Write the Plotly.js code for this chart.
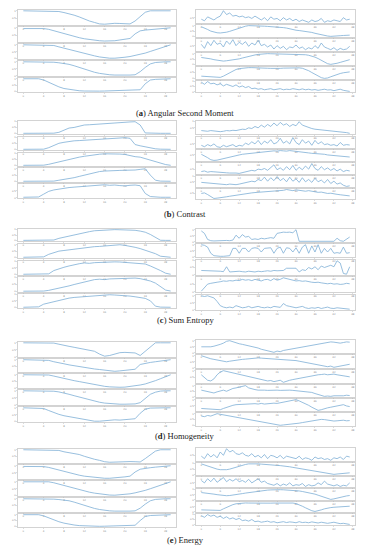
<!DOCTYPE html>
<html><head><meta charset="utf-8">
<script src="https://cdn.plot.ly/plotly-3.0.1.min.js"></script>
<style>html,body{margin:0;padding:0;background:#fff}#c{width:370px;height:550px}</style>
</head><body><div id="c"></div>
<script>
// ---------- DATA (normalised) ----------
// (a) Angular Second Moment
const aL1=[1,1,1,1,1,1,1,0.95,0.88,0.8,0.7,0.58,0.42,0.3,0.2,0.1,0.08,0.12,0.14,0.13,0.12,0.1,0.3,0.6,0.9,1,1,1,1,1];
const aL2=[0.95,0.96,0.96,0.96,0.95,0.9,0.8,0.7,0.6,0.5,0.42,0.35,0.28,0.22,0.18,0.15,0.13,0.12,0.15,0.2,0.25,0.3,0.6,0.8,0.85,0.88,0.9,0.95,0.97,1];
const aL3=[1,1,1,1,1,1,0.95,0.85,0.75,0.65,0.55,0.45,0.36,0.28,0.2,0.12,0.06,0.03,0.03,0.05,0.1,0.15,0.22,0.3,0.4,0.52,0.65,0.78,0.9,1];
const aL4=[1,1,1,1,1,1,0.97,0.93,0.88,0.82,0.72,0.6,0.48,0.36,0.26,0.18,0.12,0.08,0.06,0.05,0.05,0.06,0.08,0.3,0.6,0.85,0.95,1,1,1];
const aL5=[1,1,1,1,0.9,0.7,0.5,0.35,0.22,0.14,0.08,0.04,0.02,0,0,0.01,0.02,0.03,0.04,0.05,0.06,0.08,0.1,0.12,0.6,0.9,0.95,0.97,0.98,1];
const aR1=[0.4,0.3,0.55,0.45,0.35,0.5,0.6,0.95,0.7,0.8,0.6,0.65,0.55,0.6,0.5,0.55,0.45,0.6,0.5,0.35,0.5,0.3,0.55,0.4,0.45,0.3,0.5,0.35,0.45,0.3,0.4,0.25,0.35,0.3,0.2,0.35,0.25,0.3,0.45,0.2,0.3,0.25,0.35,0.3,0.25,0.5,0.35,0.4];
const aR2=[0.9,0.8,0.65,0.5,0.4,0.35,0.33,0.35,0.4,0.48,0.58,0.7,0.8,0.9,0.95,1,1,0.98,0.97,0.98,0.95,0.93,0.92,0.9,0.88,0.85,0.82,0.78,0.7,0.62,0.58,0.55,0.52,0.5,0.45,0.38,0.3,0.22,0.15,0.1,0.05,0.02,0.02,0.05,0.08,0.1,0.12,0.13];
const aR3=[0.6,0.3,0.8,0.5,0.9,0.6,0.7,0.4,0.85,0.6,0.95,0.5,0.75,0.6,0.8,0.45,0.7,0.55,0.9,0.5,0.6,0.4,0.55,0.25,0.5,0.3,0.45,0.2,0.4,0.35,0.55,0.3,0.4,0.2,0.35,0.25,0.5,0.3,0.7,0.4,0.3,0.2,0.35,0.15,0.3,0.2,0.25,0.45];
const aR4=[0.65,0.62,0.58,0.52,0.45,0.4,0.35,0.32,0.35,0.38,0.4,0.45,0.52,0.6,0.68,0.75,0.82,0.88,0.93,0.97,1,1,0.99,0.98,0.97,0.98,0.99,0.98,0.96,0.95,0.93,0.95,0.92,0.9,0.85,0.78,0.68,0.55,0.4,0.22,0.08,0.02,0.05,0.12,0.2,0.3,0.38,0.45];
const aR5=[0.2,0.18,0.17,0.16,0.15,0.12,0.1,0.2,0.35,0.5,0.65,0.75,0.82,0.86,0.88,0.9,0.9,0.88,0.87,0.88,0.86,0.85,0.84,0.83,0.82,0.84,0.86,0.87,0.88,0.89,0.9,0.88,0.85,0.78,0.65,0.5,0.35,0.2,0.08,0.02,0.05,0.15,0.25,0.35,0.42,0.48,0.5,0.55];
const aR6=[0.9,0.7,0.95,0.75,0.8,0.65,0.75,0.55,0.7,0.6,0.5,0.65,0.45,0.55,0.4,0.5,0.3,0.35,0.25,0.3,0.2,0.25,0.3,0.2,0.25,0.3,0.2,0.25,0.22,0.3,0.25,0.2,0.28,0.2,0.25,0.18,0.22,0.15,0.2,0.25,0.18,0.2,0.12,0.18,0.25,0.15,0.1,0.05];
// (b) Contrast
const bL1=[0.02,0.02,0.02,0.02,0.02,0.02,0.03,0.1,0.3,0.45,0.5,0.6,0.7,0.72,0.75,0.8,0.85,0.88,0.9,0.9,0.92,0.95,0.97,0.7,0.05,0.02,0.02,0.02,0.02,0.02];
const bL2=[0.02,0.02,0.02,0.02,0.03,0.15,0.35,0.5,0.58,0.65,0.7,0.72,0.75,0.78,0.8,0.82,0.85,0.88,0.9,0.92,0.95,0.9,0.4,0.3,0.2,0.12,0.06,0.03,0.02,0.02];
const bL3=[0.02,0.02,0.02,0.02,0.03,0.1,0.2,0.3,0.42,0.52,0.6,0.68,0.75,0.82,0.88,0.92,0.95,0.96,0.95,0.93,0.9,0.8,0.72,0.68,0.55,0.42,0.3,0.18,0.08,0.02];
const bL4=[0.02,0.02,0.02,0.02,0.02,0.02,0.03,0.1,0.15,0.22,0.3,0.4,0.5,0.6,0.7,0.78,0.82,0.85,0.86,0.87,0.88,0.88,0.9,0.95,1,0.5,0.1,0.03,0.02,0.02];
const bL5=[0.03,0.03,0.03,0.05,0.25,0.45,0.55,0.62,0.68,0.72,0.75,0.78,0.8,0.85,0.88,0.9,0.92,0.88,0.9,0.86,0.84,0.88,0.9,0.85,0.3,0.08,0.04,0.03,0.03,0.03];
const bR1=[0.3,0.28,0.25,0.3,0.27,0.25,0.22,0.25,0.3,0.28,0.32,0.3,0.35,0.4,0.38,0.5,0.45,0.6,0.5,0.7,0.55,0.75,0.6,0.85,0.65,0.9,0.7,0.8,0.6,0.75,0.65,0.95,0.7,0.6,0.5,0.45,0.4,0.38,0.35,0.32,0.3,0.28,0.25,0.22,0.2,0.18,0.15,0.1];
const bR2=[0.4,0.3,0.45,0.35,0.5,0.3,0.25,0.4,0.3,0.35,0.45,0.3,0.4,0.35,0.55,0.45,0.65,0.5,0.75,0.45,0.7,0.55,0.8,0.5,0.6,0.9,0.55,0.7,0.5,0.95,0.6,0.45,0.8,0.55,0.7,0.4,0.75,0.5,0.65,0.45,0.5,0.4,0.45,0.35,0.6,0.4,0.45,0.42];
const bR3=[0.55,0.45,0.3,0.15,0.1,0.12,0.18,0.25,0.3,0.35,0.4,0.45,0.5,0.55,0.58,0.6,0.63,0.65,0.68,0.7,0.72,0.75,0.78,0.8,0.78,0.82,0.8,0.78,0.82,0.8,0.78,0.75,0.72,0.7,0.65,0.62,0.6,0.62,0.6,0.55,0.5,0.48,0.45,0.42,0.4,0.38,0.36,0.35];
const bR4=[0.3,0.35,0.25,0.3,0.28,0.25,0.2,0.22,0.2,0.18,0.2,0.18,0.15,0.2,0.3,0.35,0.4,0.35,0.5,0.45,0.55,0.4,0.6,0.85,0.45,0.6,0.4,0.7,0.45,0.8,0.4,0.65,0.45,0.75,0.5,0.95,0.55,0.4,0.7,0.45,0.6,0.4,0.55,0.35,0.5,0.3,0.4,0.35];
const bR5=[0.45,0.42,0.4,0.35,0.38,0.3,0.32,0.28,0.25,0.3,0.28,0.25,0.3,0.35,0.4,0.45,0.55,0.5,0.7,0.6,0.9,0.55,0.85,0.6,0.95,0.6,0.8,0.5,0.9,0.55,0.75,0.45,0.85,0.5,0.7,0.45,0.8,0.5,0.65,0.4,0.7,0.35,0.55,0.3,0.4,0.2,0.1,0.15];
const bR6=[0.5,0.55,0.4,0.2,0.05,0.08,0.1,0.15,0.2,0.25,0.3,0.35,0.38,0.4,0.45,0.5,0.55,0.58,0.6,0.62,0.65,0.7,0.68,0.72,0.75,0.8,0.78,0.85,0.8,0.75,0.82,0.78,0.72,0.7,0.75,0.68,0.65,0.6,0.62,0.55,0.5,0.52,0.45,0.42,0.38,0.35,0.3,0.28];
// (c) Sum Entropy
const cL1=[0.02,0.02,0.02,0.02,0.02,0.02,0.05,0.2,0.3,0.45,0.55,0.62,0.7,0.8,0.88,0.92,0.95,0.97,0.98,0.97,0.96,0.97,0.92,0.85,0.75,0.55,0.3,0.03,0.02,0.02];
const cL2=[0.02,0.02,0.02,0.02,0.05,0.25,0.4,0.5,0.55,0.6,0.68,0.72,0.78,0.82,0.85,0.87,0.9,0.93,0.97,1,0.95,0.9,0.8,0.7,0.58,0.45,0.3,0.1,0.03,0.02];
const cL3=[0.02,0.02,0.02,0.02,0.03,0.05,0.3,0.45,0.55,0.65,0.75,0.82,0.88,0.85,0.9,0.92,0.95,0.97,0.96,0.95,0.93,0.9,0.88,0.85,0.8,0.65,0.5,0.3,0.1,0.02];
const cL4=[0.02,0.02,0.02,0.02,0.03,0.08,0.15,0.22,0.3,0.4,0.5,0.58,0.7,0.78,0.85,0.88,0.85,0.9,0.92,0.95,0.97,0.98,0.96,0.92,0.85,0.75,0.6,0.35,0.1,0.03];
const cL5=[0.02,0.02,0.02,0.05,0.25,0.35,0.45,0.55,0.62,0.7,0.75,0.78,0.8,0.82,0.85,0.9,0.95,0.95,0.93,0.92,0.9,0.85,0.8,0.75,0.68,0.5,0.1,0.03,0.02,0.02];
const cR1=[0.9,0.7,0.2,0.1,0.08,0.1,0.08,0.1,0.12,0.1,0.15,0.55,0.3,0.6,0.4,0.45,0.2,0.25,0.2,0.3,0.25,0.3,0.35,0.3,0.7,0.75,0.8,0.78,0.8,0.75,1,0.05,0.05,0.05,0.05,0.05,0.05,0.05,0.05,0.05,0.05,0.05,0.05,0.3,0.1,0.05,0.2,0.4];
const cR2=[1,0.95,0.8,0.3,0.1,0.05,0.05,0.05,0.05,0.1,0.7,0.7,0.3,0.7,0.7,0.4,0.7,0.75,0.7,0.4,0.7,0.7,0.75,0.3,0.7,0.8,0.3,0.75,0.7,0.4,0.75,0.3,0.8,1,0.3,0.9,0.4,1,0.3,0.7,0.4,0.7,0.3,0.35,0.3,0.8,0.3,0.35];
const cR3=[0.3,0.3,0.28,0.3,0.25,0.28,0.25,0.22,0.55,0.2,0.22,0.2,0.25,0.22,0.2,0.25,0.22,0.2,0.25,0.22,0.25,0.28,0.25,0.3,0.28,0.3,0.3,0.45,0.45,0.4,0.45,0.2,0.35,0.3,0.5,0.4,0.55,0.35,0.6,0.5,0.6,0.65,0.55,0.95,0.8,0.1,0.05,0.55];
const cR4=[0.05,0.3,0.5,0.55,0.6,0.62,0.65,0.7,0.68,0.72,0.7,0.75,0.72,0.8,0.75,0.78,0.72,0.8,0.75,0.7,0.78,0.8,0.72,0.85,0.75,0.8,0.9,0.85,0.8,0.75,0.7,0.72,0.68,0.7,0.65,0.62,0.6,0.62,0.58,0.55,0.52,0.55,0.5,0.52,0.48,0.5,0.55,0.52];
const cR5=[1,0.95,1,0.9,0.85,0.6,0.3,0.2,0.15,0.2,0.15,0.3,0.2,0.15,0.18,0.25,0.15,0.2,0.25,0.18,0.15,0.2,0.15,0.25,0.2,0.18,0.45,0.3,0.25,0.2,0.15,0.2,0.25,0.15,0.1,0.15,0.12,0.18,0.1,0.15,0.2,0.12,0.1,0.15,0.12,0.1,0.08,0.05];
// (d) Homogeneity
const dL1=[1,1,1,1,1,1,0.98,0.9,0.85,0.75,0.68,0.62,0.55,0.45,0.4,0.2,0.05,0.1,0.2,0.3,0.32,0.3,0.28,0.1,0.4,0.75,1,1,1,1];
const dL2=[1,1,1,1,1,0.95,0.85,0.75,0.7,0.62,0.55,0.48,0.42,0.38,0.32,0.28,0.22,0.18,0.15,0.18,0.22,0.25,0.3,0.65,0.75,0.8,0.85,0.9,0.95,1];
const dL3=[1,1,1,1,1,0.98,0.9,0.8,0.72,0.62,0.55,0.48,0.4,0.32,0.25,0.18,0.12,0.08,0.05,0.05,0.06,0.1,0.15,0.22,0.3,0.4,0.55,0.7,0.85,1];
const dL4=[1,1,1,1,1,1,0.97,0.92,0.85,0.75,0.65,0.55,0.45,0.35,0.25,0.18,0.12,0.08,0.05,0.04,0.04,0.05,0.06,0.15,0.45,0.75,0.9,0.98,1,1];
const dL5=[1,1,1,1,0.95,0.8,0.65,0.52,0.42,0.35,0.28,0.2,0.12,0.06,0.02,0.02,0.05,0.1,0.12,0.1,0.12,0.15,0.2,0.6,0.9,0.98,1,1,1,1];
const dR1=[0.5,0.48,0.52,0.5,0.55,0.6,0.7,0.8,0.95,1,0.9,0.8,0.75,0.7,0.65,0.6,0.5,0.45,0.4,0.3,0.25,0.15,0.1,0.05,0.15,0.1,0.2,0.25,0.3,0.35,0.4,0.45,0.5,0.55,0.6,0.62,0.65,0.7,0.75,0.8,0.85,0.9,0.88,0.85,0.8,0.85,0.9,0.88];
const dR2=[1,0.9,0.8,0.75,0.7,0.65,0.6,0.55,0.5,0.55,0.6,0.65,0.68,0.7,0.72,0.75,0.78,0.8,0.82,0.8,0.78,0.8,0.78,0.75,0.72,0.7,0.72,0.68,0.65,0.62,0.6,0.55,0.5,0.45,0.4,0.35,0.3,0.25,0.2,0.15,0.1,0.15,0.05,0.1,0.15,0.2,0.25,0.3];
const dR3=[0.7,0.5,0.3,0.25,0.4,0.7,0.9,1,0.95,0.85,0.8,0.78,0.75,0.7,0.65,0.6,0.55,0.45,0.4,0.35,0.3,0.25,0.28,0.2,0.25,0.3,0.15,0.25,0.3,0.35,0.4,0.42,0.45,0.5,0.55,0.6,0.65,0.7,0.72,0.75,0.7,0.72,0.75,0.7,0.65,0.6,0.58,0.55];
const dR4=[0.6,0.55,0.5,0.4,0.35,0.45,0.55,0.6,0.5,0.65,0.75,0.8,0.85,0.95,1,0.8,0.7,0.65,0.6,0.62,0.6,0.58,0.6,0.62,0.6,0.58,0.6,0.62,0.6,0.58,0.55,0.58,0.55,0.5,0.45,0.4,0.3,0.2,0.1,0.05,0.08,0.05,0.1,0.08,0.12,0.1,0.15,0.12];
const dR5=[0.3,0.28,0.3,0.25,0.28,0.25,0.2,0.3,0.4,0.5,0.55,0.6,0.62,0.6,0.65,0.62,0.65,0.68,0.65,0.7,0.65,0.68,0.7,0.72,0.7,0.75,0.8,0.85,0.9,0.95,1,0.9,0.8,0.7,0.55,0.4,0.25,0.15,0.2,0.3,0.35,0.4,0.45,0.5,0.55,0.6,0.5,0.45];
const dR6=[0.8,0.75,0.85,0.8,0.9,1,0.95,0.9,0.85,0.8,0.75,0.7,0.65,0.6,0.55,0.5,0.45,0.4,0.35,0.3,0.25,0.2,0.15,0.1,0.05,0.02,0.05,0.08,0.05,0.1,0.15,0.2,0.25,0.3,0.35,0.4,0.45,0.5,0.52,0.5,0.45,0.4,0.38,0.4,0.42,0.45,0.4,0.42];
// (e) Energy
const eL1=[1,1,1,1,1,1,1,0.95,0.85,0.78,0.72,0.65,0.52,0.4,0.3,0.22,0.12,0.08,0.1,0.12,0.14,0.13,0.12,0.1,0.35,0.65,0.9,1,1,1];
const eL2=[0.95,0.95,0.95,0.96,0.94,0.88,0.78,0.68,0.58,0.48,0.4,0.32,0.25,0.2,0.15,0.12,0.1,0.1,0.12,0.15,0.2,0.25,0.55,0.75,0.82,0.86,0.9,0.94,0.97,1];
const eL3=[1,1,1,1,1,1,0.93,0.83,0.72,0.62,0.52,0.42,0.33,0.25,0.18,0.12,0.07,0.04,0.03,0.05,0.08,0.13,0.2,0.28,0.38,0.5,0.62,0.75,0.88,1];
const eL4=[1,1,1,1,1,1,0.97,0.94,0.9,0.85,0.75,0.62,0.5,0.38,0.28,0.2,0.14,0.1,0.08,0.07,0.07,0.08,0.1,0.3,0.6,0.85,0.95,1,1,1];
const eL5=[1,1,1,1,0.9,0.72,0.55,0.4,0.28,0.18,0.12,0.07,0.04,0.02,0.01,0.01,0.02,0.03,0.04,0.05,0.06,0.08,0.1,0.5,0.85,0.93,0.96,0.98,1,1];
const eR1=[0.45,0.3,0.6,0.4,0.55,0.35,0.7,0.5,0.9,0.7,0.8,0.6,0.55,0.65,0.5,0.45,0.6,0.4,0.5,0.35,0.55,0.3,0.5,0.45,0.35,0.5,0.3,0.45,0.4,0.35,0.3,0.45,0.25,0.35,0.3,0.2,0.4,0.3,0.35,0.25,0.3,0.2,0.35,0.3,0.4,0.25,0.45,0.4];
const eR2=[0.95,0.85,0.75,0.65,0.55,0.5,0.45,0.42,0.45,0.5,0.58,0.68,0.78,0.85,0.9,0.95,0.97,0.96,0.95,0.93,0.92,0.9,0.88,0.85,0.82,0.8,0.78,0.75,0.7,0.65,0.6,0.55,0.5,0.45,0.4,0.35,0.3,0.25,0.2,0.15,0.1,0.08,0.05,0.08,0.1,0.12,0.15,0.18];
const eR3=[0.7,0.5,0.85,0.6,0.9,0.55,0.75,0.95,0.6,0.8,0.65,0.85,0.6,0.7,0.55,0.8,0.5,0.7,0.85,0.55,0.65,0.45,0.4,0.3,0.45,0.25,0.4,0.3,0.5,0.25,0.35,0.3,0.45,0.2,0.35,0.25,0.3,0.5,0.35,0.65,0.4,0.3,0.25,0.35,0.2,0.3,0.25,0.5];
const eR4=[0.7,0.68,0.65,0.6,0.55,0.5,0.45,0.42,0.4,0.42,0.45,0.5,0.55,0.6,0.65,0.7,0.75,0.8,0.85,0.88,0.9,0.93,0.95,0.97,0.98,0.97,0.96,0.95,0.93,0.9,0.88,0.85,0.8,0.75,0.7,0.62,0.55,0.45,0.35,0.2,0.1,0.05,0.1,0.18,0.25,0.32,0.38,0.42];
const eR5=[0.2,0.18,0.17,0.15,0.14,0.12,0.15,0.3,0.45,0.6,0.7,0.78,0.82,0.85,0.86,0.85,0.84,0.85,0.86,0.84,0.83,0.82,0.84,0.85,0.86,0.87,0.88,0.9,0.88,0.85,0.8,0.7,0.55,0.4,0.25,0.12,0.05,0.1,0.2,0.3,0.38,0.42,0.45,0.48,0.5,0.52,0.55,0.55];
const eR6=[0.85,0.7,0.95,0.8,0.9,0.7,0.8,0.6,0.75,0.55,0.65,0.5,0.6,0.4,0.45,0.35,0.5,0.3,0.35,0.25,0.3,0.35,0.25,0.3,0.2,0.28,0.3,0.22,0.28,0.25,0.2,0.3,0.22,0.25,0.2,0.28,0.22,0.18,0.25,0.2,0.15,0.2,0.25,0.18,0.12,0.15,0.1,0.05];

const captionLetters=['a','b','c','d','e'];
const captionNames=['Angular Second Moment','Contrast','Sum Entropy','Homogeneity','Energy'];
const leftSeries=[[aL1,aL2,aL3,aL4,aL5],[bL1,bL2,bL3,bL4,bL5],[cL1,cL2,cL3,cL4,cL5],[dL1,dL2,dL3,dL4,dL5],[eL1,eL2,eL3,eL4,eL5]];
const rightSeries=[[aR1,aR2,aR3,aR4,aR5,aR6],[bR1,bR2,bR3,bR4,bR5,bR6],[cR1,cR2,cR3,cR4,cR5],[dR1,dR2,dR3,dR4,dR5,dR6],[eR1,eR2,eR3,eR4,eR5,eR6]];

// ---------- LAYOUT (pixel frames) ----------
const W=370,H=550;
const LX=[18,176], RX=[196,355];
const leftFrames=[
 [[10,25],[27,42],[44,59],[61,76],[78,92]],
 [[121,134],[137,150],[153,166],[168,182],[184,198]],
 [[229,241],[244,258],[261,275],[277,292],[294,308]],
 [[342,357],[359,372],[374,388],[390,405],[407,422]],
 [[449,463],[465,479],[481,496],[498,512],[514,527]]];
const rightFrames=[
 [[10,23],[25,37],[39,51],[53,65],[67,79],[81,92]],
 [[121,134],[137,148],[150,161],[163,174],[176,187],[189,199]],
 [[229,242],[244,257],[260,275],[277,292],[295,310]],
 [[340,353],[355,368],[370,383],[385,397],[399,411],[413,426]],
 [[448,461],[463,475],[477,487],[489,500],[502,512],[514,525]]];
const captionY=[113,214,320,436,540];

const traces=[]; const layout={width:W,height:H,margin:{l:0,r:0,t:0,b:0},showlegend:false,
  paper_bgcolor:'#fff',plot_bgcolor:'#fff',annotations:[]};
let k=0;
function addSub(ys,xr,fr,dt){
  k++;
  const sfx=(k===1?'':k);
  const xs=ys.map((_,i)=>i);
  traces.push({x:xs,y:ys,type:'scatter',mode:'lines',xaxis:'x'+sfx,yaxis:'y'+sfx,
    line:{color:'#7eaed6',width:0.8},hoverinfo:'skip'});
  const mn=Math.min(...ys), mx=Math.max(...ys); const pad=(mx-mn)*0.06||0.05;
  const n=ys.length, xpad=n*0.035;
  const common={showline:true,mirror:true,linecolor:'#b5b5b5',linewidth:0.6,showgrid:false,zeroline:false,
    ticks:'outside',ticklen:1,tickwidth:0.4,tickcolor:'#aaa',tickfont:{size:2.5,color:'#888',family:'DejaVu Sans'}};
  layout['xaxis'+sfx]=Object.assign({},common,{domain:[xr[0]/W,xr[1]/W],anchor:'y'+sfx,range:[-xpad,n-1+xpad],dtick:dt,tick0:0});
  layout['yaxis'+sfx]=Object.assign({},common,{domain:[1-fr[1]/H,1-fr[0]/H],anchor:'x'+sfx,range:[mn-pad,mx+pad],nticks:3});
}
for(let p=0;p<5;p++){
  leftSeries[p].forEach((s,i)=>addSub(s,LX,leftFrames[p][i],4));
  rightSeries[p].forEach((s,i)=>addSub(s,RX,rightFrames[p][i],6));
  layout.annotations.push({xref:'paper',yref:'paper',x:185/W,y:1-captionY[p]/H,xanchor:'center',yanchor:'middle',
    showarrow:false,text:'(<b>'+captionLetters[p]+'</b>) '+captionNames[p],
    font:{family:'Liberation Serif, DejaVu Serif, serif',size:8.5,color:'#222'}});
}
Plotly.newPlot('c',traces,layout,{staticPlot:true,displayModeBar:false});
</script></body></html>
